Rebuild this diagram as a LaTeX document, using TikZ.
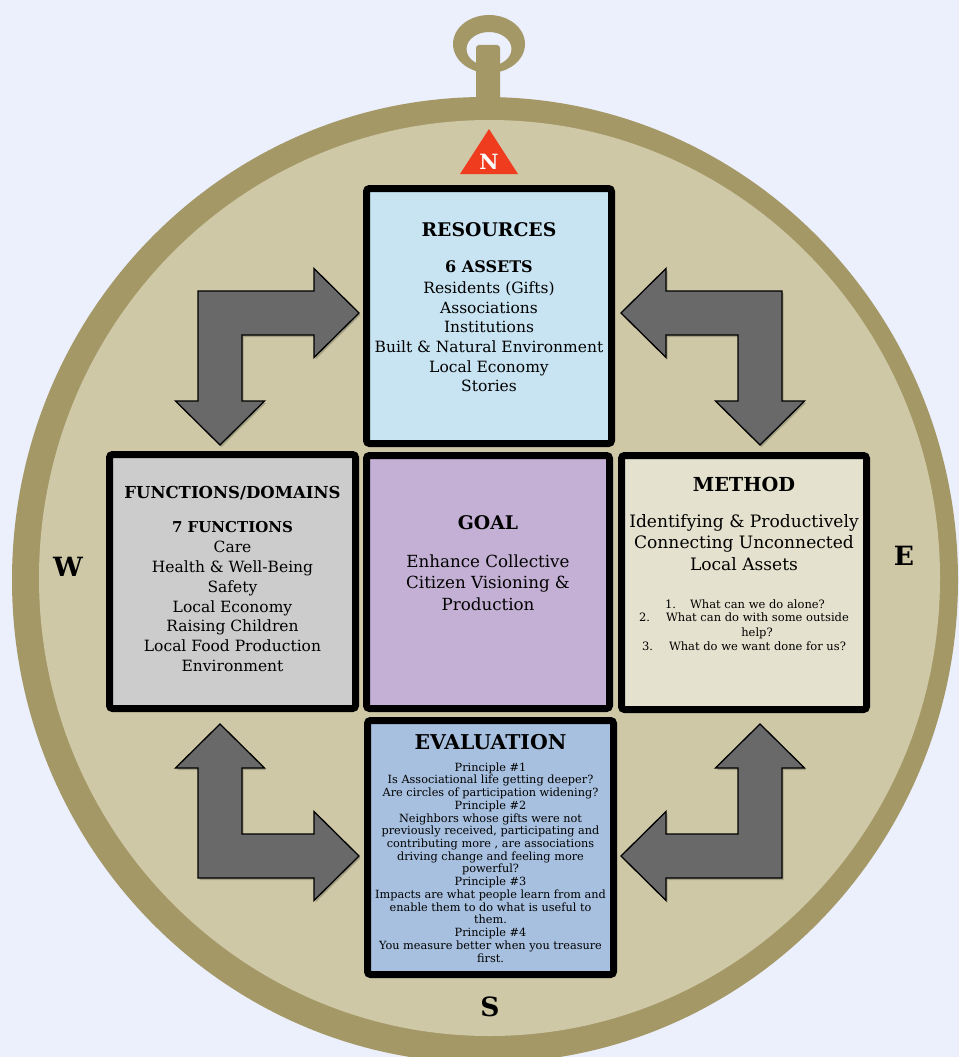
\documentclass[tikz,border=0pt]{standalone}
\usepackage{fontspec}
\setmainfont{DejaVu Serif}
\definecolor{bg}{RGB}{236,239,252}
\definecolor{ringc}{RGB}{165,152,103}
\definecolor{discc}{RGB}{206,200,166}
\definecolor{resc}{RGB}{200,228,242}
\definecolor{func}{RGB}{204,204,204}
\definecolor{goalc}{RGB}{196,176,212}
\definecolor{methc}{RGB}{228,225,206}
\definecolor{evalc}{RGB}{167,192,223}
\definecolor{arrc}{RGB}{105,105,105}
\definecolor{nred}{RGB}{240,60,30}
\newcommand\bentarrowpath{(0,0) -- (116,0) -- (116,-22.5) -- (161,22) -- (116,66.5) -- (116,44) -- (44,44) -- (44,110) -- (66.5,110) -- (22,154) -- (-22.5,110) -- (0,110) -- cycle}
\newcommand\drawbent[1]{%
  \begin{scope}[shift={(1.5,2)},#1]\fill[black,opacity=0.2] \bentarrowpath;\end{scope}
  \begin{scope}[#1]\path[bentarr] \bentarrowpath;\end{scope}}
\tikzset{
  bentarr/.style={fill=arrc,draw=black,line width=1.3pt,line join=miter},
  box/.style={draw=black,line width=7pt,rounded corners=3pt,inner sep=0pt},
  hdA/.style={inner sep=0pt,anchor=base,yshift=-6.85pt,font=\fontsize{18.8}{20}\selectfont\bfseries},
  hdM/.style={inner sep=0pt,anchor=base,yshift=-7.05pt,font=\fontsize{19.3}{21}\selectfont\bfseries},
  hdE/.style={inner sep=0pt,anchor=base,yshift=-7.45pt,font=\fontsize{20.4}{22}\selectfont\bfseries},
  hdF/.style={inner sep=0pt,anchor=base,yshift=-6pt,font=\fontsize{16.5}{18}\selectfont\bfseries},
  subR/.style={inner sep=0pt,anchor=base,yshift=-5.85pt,font=\fontsize{16}{18}\selectfont\bfseries},
  subF/.style={inner sep=0pt,anchor=base,yshift=-5.5pt,font=\fontsize{15}{17}\selectfont\bfseries},
  body/.style={inner sep=0pt,anchor=base,yshift=-5.65pt,font=\fontsize{15.5}{17}\selectfont},
  bodyG/.style={inner sep=0pt,anchor=base,yshift=-6.1pt,font=\fontsize{16.7}{18}\selectfont},
  bodyL/.style={inner sep=0pt,anchor=base,yshift=-6.25pt,font=\fontsize{17.1}{19}\selectfont},
  small/.style={inner sep=0pt,anchor=base,yshift=-4.2pt,font=\fontsize{11.5}{13}\selectfont},
  evl/.style={inner sep=0pt,anchor=base,yshift=-4.1pt,font=\fontsize{11.3}{13}\selectfont},
  card/.style={inner sep=0pt,anchor=base,yshift=-9.5pt,font=\fontsize{26.5}{28}\selectfont\bfseries},
  ntri/.style={inner sep=0pt,anchor=base,yshift=-7.7pt,text=white,font=\fontsize{21}{22}\selectfont\bfseries}
}
\begin{document}
\begin{tikzpicture}[x=1pt,y=-1pt]
\useasboundingbox (0,0) rectangle (959,1057);
\fill[bg] (0,0) rectangle (959,1057);
\begin{scope}
\clip (0,0) rectangle (959,1057);
% handle
\fill[ringc,even odd rule] (489,44) ellipse [x radius=36pt, y radius=29pt] (489,49) ellipse [x radius=22.5pt, y radius=17pt];
\fill[ringc,rounded corners=3pt] (476,110) -- (476,45) -- (500,45) -- (500,110) -- cycle;
% compass body
\fill[ringc] (485,580) ellipse [x radius=473pt, y radius=483pt];
\fill[discc] (489.5,578) ellipse [x radius=450.5pt, y radius=458pt];
\end{scope}
% north triangle
\fill[nred] (489,129) -- (460,174) -- (518,174) -- cycle;
\node[ntri] (N) at (489,162) {N};
% cardinal letters
\node[card] (W) at (68,567) {W};
\node[card] (E) at (904,556) {E};
\node[card] (S) at (490,1007) {S};
% bent arrows
\drawbent{shift={(198,291)}}
\drawbent{shift={(782,291)},xscale=-1}
\drawbent{shift={(198,878)},yscale=-1}
\drawbent{shift={(782,878)},xscale=-1,yscale=-1}
% boxes
\node[box,fill=resc,minimum width=245pt,minimum height=255pt] (resbox) at (489,316) {};
\node[box,fill=func,minimum width=246pt,minimum height=254pt] (funbox) at (232.5,581.5) {};
\node[box,fill=goalc,minimum width=243pt,minimum height=253pt] (goalbox) at (488,582) {};
\node[box,fill=methc,minimum width=245pt,minimum height=254pt] (methbox) at (744,582.5) {};
\node[box,fill=evalc,minimum width=246pt,minimum height=254pt] (evalbox) at (490.5,847.5) {};
% resources text
\node[hdA] (reshd) at (489,230) {RESOURCES};
\node[subR] (ressub) at (489,267) {6 ASSETS};
\foreach \t [count=\i from 0] in {Residents (Gifts),Associations,Institutions,Built \& Natural Environment,Local Economy,Stories}
  \node[body] (res\i) at (489,{288+19.6*\i}) {\t};
% functions text
\node[hdF] (funhd) at (232.5,492) {FUNCTIONS/DOMAINS};
\node[subF] (funsub) at (232.5,527) {7 FUNCTIONS};
\foreach \t [count=\i from 0] in {Care,Health \& Well-Being,Safety,Local Economy,Raising Children,Local Food Production,Environment}
  \node[body] (fun\i) at (232.5,{547+19.8*\i}) {\t};
% goal text
\node[hdA] (goalhd) at (488,523) {GOAL};
\foreach \t [count=\i from 0] in {Enhance Collective,Citizen Visioning \&,Production}
  \node[bodyG] (goal\i) at (488,{561+21.5*\i}) {\t};
% method text
\node[hdM] (methhd) at (744,484) {METHOD};
\foreach \t [count=\i from 0] in {Identifying \& Productively,Connecting Unconnected,Local Assets}
  \node[bodyL] (meth\i) at (744,{521+21.5*\i}) {\t};
\node[small] (m1) at (745,604) {1.\hspace{14pt}What can we do alone?};
\node[small] (m2) at (744,617) {2.\hspace{16pt}What can do with some outside};
\node[small] (m3) at (757,632) {help?};
\node[small] (m4) at (744,646) {3.\hspace{16pt}What do we want done for us?};
% evaluation text
\node[hdE] (evalhd) at (490.5,742) {EVALUATION};
\foreach \t [count=\i from 0] in {Principle \#1,Is Associational life getting deeper?,Are circles of participation widening?,Principle \#2,Neighbors whose gifts were not,{previously received, participating and},{contributing more , are associations},driving change and feeling more,powerful?,Principle \#3,Impacts are what people learn from and,enable them to do what is useful to,them.,Principle \#4,You measure better when you treasure,first.}
  \node[evl] (ev\i) at (490.5,{767+12.73*\i}) {\t};
\end{tikzpicture}
\end{document}
